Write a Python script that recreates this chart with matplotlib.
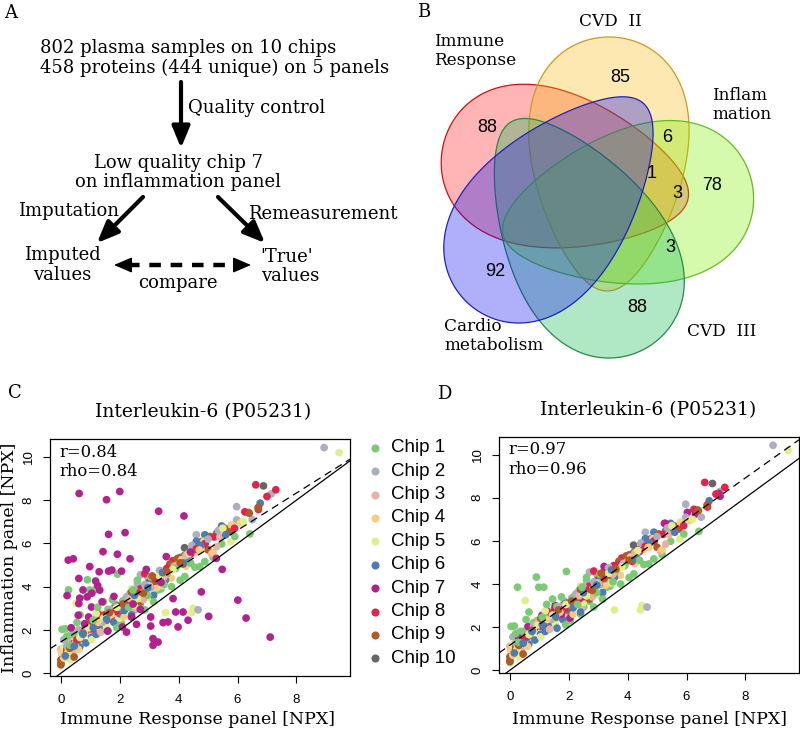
import numpy as np
import matplotlib
matplotlib.use('Agg')
import matplotlib.pyplot as plt
from matplotlib.patches import Polygon

plt.rcParams['font.family'] = 'DejaVu Serif'

# ---- data -------------------------------------------------------------
chips = ['Chip %d' % i for i in range(1, 11)]
chip_colors = ['#7ACB74', '#ABAFBF', '#E3B4A0', '#FDCB80', '#E2EE8A',
               '#4A7DB4', '#B3218E', '#E3234D', '#B05A25', '#666666']

# (immune response NPX, inflammation NPX) per chip
chip1 = [(0.04, 2.03), (0.26, 3.85), (0.90, 4.32), (0.98, 3.85), (1.15, 3.85), (1.92, 4.58),
         (2.85, 2.93), (2.70, 3.20), (3.76, 4.00), (4.21, 4.47), (3.30, 3.85), (3.40, 3.90),
         (2.51, 2.93), (2.40, 2.60), (2.05, 2.31), (1.90, 2.10), (6.42, 6.44), (5.91, 6.32),
         (5.46, 5.98), (4.89, 5.16), (4.72, 4.93), (5.17, 5.36), (0.45, 1.80), (0.80, 2.20),
         (1.30, 2.55), (1.60, 2.95), (2.20, 3.45), (2.60, 4.30), (3.05, 4.45), (3.60, 4.60),
         (4.05, 4.30), (0.30, 1.30), (0.65, 2.70), (1.45, 3.30), (2.95, 3.60), (4.40, 5.10),
         (1.10, 2.45), (3.90, 4.85), (0.20, 1.70), (0.55, 2.35), (1.75, 3.40), (2.30, 3.05),
         (2.45, 3.85), (3.15, 3.30), (3.50, 4.10), (4.55, 4.90), (1.25, 3.05), (0.15, 2.05)]
chip2 = [(8.94, 10.43), (7.14, 8.29), (5.97, 7.70), (5.97, 7.09), (4.66, 2.93), (0.10, 1.55),
         (0.35, 1.80), (0.60, 2.00), (0.95, 2.30), (1.25, 2.55), (1.50, 2.70), (1.85, 3.20),
         (2.10, 3.35), (2.35, 3.70), (2.60, 4.15), (2.70, 4.55), (2.95, 4.45), (3.20, 4.30),
         (3.45, 4.60), (3.70, 4.80), (4.00, 5.30), (4.30, 5.40), (4.60, 6.40), (5.00, 6.20),
         (5.35, 6.60), (6.50, 7.10), (1.70, 2.95), (3.05, 3.95), (0.20, 1.25), (0.80, 2.05),
         (1.10, 2.45), (1.40, 2.35), (2.25, 3.55), (2.50, 3.85), (3.35, 4.75), (3.85, 4.95),
         (4.45, 5.90), (2.85, 4.10)]
chip3 = [(0.00, 1.11), (0.05, 0.85), (0.15, 1.20), (0.30, 1.45), (0.55, 1.60), (0.75, 1.95),
         (1.00, 2.05), (1.20, 2.50), (1.45, 2.40), (1.70, 2.85), (1.95, 2.70), (2.20, 3.20),
         (2.45, 2.95), (2.65, 3.55), (2.90, 3.90), (3.10, 4.35), (3.35, 4.20), (3.60, 4.65),
         (3.85, 4.85), (4.10, 5.25), (4.40, 5.10), (4.70, 5.95), (5.12, 5.52), (5.29, 5.85),
         (5.40, 6.30), (1.35, 1.90), (2.80, 3.40), (0.40, 0.95), (0.25, 0.95), (0.65, 1.70),
         (0.90, 2.15), (1.60, 2.60), (2.10, 3.00), (2.35, 3.45), (3.00, 4.05), (3.50, 4.45),
         (3.95, 5.00), (4.25, 5.45)]
chip4 = [(0.00, 0.34), (0.02, 0.95), (0.20, 1.30), (0.45, 1.70), (0.70, 1.55), (0.90, 2.30),
         (1.10, 2.00), (1.35, 2.75), (1.60, 2.45), (1.85, 3.05), (2.05, 2.85), (2.30, 3.45),
         (2.55, 3.30), (2.75, 3.85), (3.00, 4.10), (3.25, 3.95), (3.50, 4.50), (3.75, 4.40),
         (4.00, 5.10), (4.25, 4.95), (4.55, 5.60), (4.85, 6.10), (5.17, 5.58), (5.80, 6.86),
         (6.10, 6.95), (2.15, 2.60), (3.40, 4.75), (0.60, 1.10), (0.10, 0.70), (0.35, 1.20),
         (0.80, 1.85), (1.25, 2.35), (1.70, 2.70), (2.45, 3.55), (2.90, 3.95), (3.60, 4.70),
         (4.10, 5.25), (4.70, 5.70)]
chip5 = [(9.45, 10.20), (5.77, 6.09), (4.49, 3.00), (4.44, 2.80), (3.55, 2.80), (0.52, 3.23),
         (0.32, 0.62), (0.10, 1.20), (0.50, 1.40), (0.80, 1.85), (1.05, 1.55), (1.30, 2.30),
         (1.55, 2.15), (1.80, 2.80), (2.00, 2.55), (2.25, 3.35), (2.50, 3.15), (2.75, 3.70),
         (3.00, 3.50), (3.20, 4.30), (3.45, 4.05), (3.70, 4.70), (3.95, 4.95), (4.20, 5.35),
         (4.75, 5.75), (5.50, 6.70), (6.20, 7.00), (1.20, 2.75), (2.40, 3.90), (0.25, 1.00),
         (0.65, 1.65), (0.95, 2.10), (1.45, 2.55), (1.90, 3.05), (2.60, 3.45), (2.90, 4.05),
         (3.35, 4.50), (3.80, 4.80), (4.35, 5.55)]
chip6 = [(6.77, 7.86), (6.37, 7.43), (5.46, 6.81), (4.89, 6.40), (5.29, 6.47), (0.64, 1.21),
         (1.04, 1.67), (0.30, 1.05), (0.55, 1.50), (0.85, 1.40), (1.20, 1.80), (1.40, 2.20),
         (1.60, 1.95), (1.80, 2.35), (2.00, 2.75), (2.25, 3.05), (2.40, 2.70), (2.60, 3.40),
         (2.85, 3.75), (3.05, 4.15), (3.30, 4.40), (3.55, 4.30), (3.80, 4.90), (4.05, 5.35),
         (4.30, 5.20), (4.60, 6.10), (4.75, 5.90), (5.60, 6.40), (1.90, 3.10), (3.15, 3.60),
         (0.15, 0.80), (0.45, 1.25), (0.75, 1.80), (1.10, 2.10), (1.55, 2.50), (2.15, 2.90),
         (2.50, 3.60), (2.95, 3.95), (3.45, 4.65), (4.15, 5.10)]
# chip 7 on the original (low quality) inflammation run
chip7_c = [(0.62, 8.31), (1.55, 8.02), (2.00, 8.40), (3.32, 7.49), (4.18, 7.27), (1.62, 6.42),
           (2.18, 6.50), (1.43, 5.62), (1.92, 5.50), (0.25, 5.23), (0.42, 5.29), (0.98, 4.93),
           (1.30, 4.69), (1.62, 4.72), (1.73, 4.77), (2.06, 4.72), (2.35, 5.29), (0.61, 4.38),
           (1.18, 4.26), (0.21, 3.59), (0.64, 3.47), (0.89, 3.53), (0.61, 3.22), (1.04, 3.06),
           (1.21, 2.57), (0.94, 2.60), (1.58, 1.95), (2.09, 2.14), (2.23, 1.90), (2.57, 2.26),
           (3.05, 2.60), (3.05, 2.18), (3.13, 1.60), (3.13, 1.29), (3.30, 1.44), (3.81, 3.45),
           (3.47, 2.34), (3.64, 2.37), (3.90, 2.83), (4.15, 2.83), (3.98, 2.14), (4.32, 2.45),
           (4.77, 3.76), (5.02, 2.63), (5.48, 4.80), (5.28, 5.31), (6.01, 3.38), (6.29, 2.55),
           (7.11, 1.67), (3.58, 5.39), (1.32, 3.84), (0.59, 2.68), (0.81, 2.29), (1.40, 3.30),
           (1.05, 3.70), (2.70, 2.95), (2.45, 3.20), (1.80, 3.55), (1.25, 4.05), (0.75, 3.85),
           (0.35, 2.10), (2.40, 2.60), (3.40, 4.20), (2.90, 4.80), (4.40, 5.60)]
# chip 7 after remeasurement
chip7_d = [(7.14, 8.07), (7.10, 8.20), (6.03, 7.32), (6.30, 7.24), (5.25, 6.81), (5.56, 6.50),
           (5.28, 6.81), (0.81, 2.08), (1.09, 2.54), (1.20, 2.00), (1.54, 3.00), (1.98, 2.77),
           (2.26, 3.31), (2.85, 3.85), (3.19, 4.55), (3.53, 4.85), (3.98, 5.08), (0.64, 1.70),
           (3.20, 4.81), (3.35, 4.47), (1.53, 2.88), (2.04, 2.42), (0.62, 2.03), (1.23, 2.57),
           (4.40, 5.60), (2.60, 3.70), (0.30, 1.50), (1.75, 2.60), (2.45, 3.40), (3.75, 4.90)]
chip8 = [(6.62, 8.71), (7.30, 8.48), (7.00, 8.17), (6.71, 7.57), (6.25, 7.46), (0.40, 1.35),
         (0.70, 1.75), (0.95, 2.15), (1.10, 2.40), (1.30, 2.20), (1.50, 2.70), (1.70, 2.55),
         (1.95, 3.10), (2.20, 3.05), (2.45, 3.60), (2.70, 3.90), (3.00, 4.20), (3.40, 4.60),
         (3.80, 5.20), (4.15, 5.05), (4.40, 5.50), (4.90, 6.00), (5.20, 6.30), (5.90, 6.70),
         (0.85, 1.95), (1.25, 2.75), (2.85, 4.60), (0.20, 1.15), (0.55, 1.55), (1.05, 2.05),
         (1.40, 2.45), (1.85, 2.85), (2.35, 3.30), (2.60, 3.70), (3.20, 4.40), (3.60, 4.85),
         (4.60, 5.75)]
chip9 = [(6.71, 7.67), (5.57, 6.70), (5.74, 6.55), (5.06, 6.32), (4.89, 5.85), (5.00, 5.70),
         (0.00, 0.62), (0.00, 0.45), (0.20, 1.00), (0.45, 1.25), (0.65, 1.60), (0.90, 2.05),
         (1.15, 2.20), (1.35, 2.65), (1.55, 2.45), (1.80, 3.00), (2.00, 2.90), (2.25, 3.40),
         (2.50, 3.55), (2.70, 3.30), (2.95, 4.00), (3.20, 4.25), (3.45, 4.40), (3.70, 5.05),
         (3.95, 5.30), (4.20, 5.45), (4.50, 5.70), (6.40, 7.40), (6.70, 7.65), (0.45, 0.75),
         (0.30, 1.15), (0.75, 1.85), (1.05, 2.40), (1.65, 2.80), (2.10, 3.20), (2.40, 3.75),
         (2.80, 3.70), (3.10, 4.50), (3.60, 4.70), (4.05, 5.10)]
chip10 = [(6.88, 8.66), (4.78, 6.09), (0.00, 0.40), (0.90, 2.10), (1.60, 2.60), (2.30, 3.40),
          (3.00, 4.30), (3.60, 4.70), (2.75, 3.95), (4.20, 5.80)]

fit_c = (1.45, 0.86)    # dashed regression line (intercept, slope)
fit_d = (1.16, 0.97)
stats_c = ('0.84', '0.84')
stats_d = ('0.97', '0.96')

venn_names = ['Immune\nResponse', 'CVD  II', 'Inflam\nmation', 'CVD  III', 'Cardio\nmetabolism']
venn_counts = [88, 85, 78, 88, 92, 6, 1, 3, 3]

# ---- figure -----------------------------------------------------------
fig = plt.figure(figsize=(8, 7.31), dpi=100)


def interleave(groups):
    xs, ys, cs = [], [], []
    n = max(len(g) for g, _ in groups)
    for i in range(n):
        for g, c in groups:
            if i < len(g):
                xs.append(g[i][0])
                ys.append(g[i][1])
                cs.append(c)
    return xs, ys, cs


def scatter_panel(rect, chip7, fit, stats):
    ax = fig.add_axes(rect)
    data = [chip1, chip2, chip3, chip4, chip5, chip6, chip7, chip8, chip9, chip10]
    xs, ys, cs = interleave(list(zip(data, chip_colors)))
    ax.scatter(xs, ys, c=cs, s=31, linewidths=0, zorder=2)
    ax.axline((0, fit[0]), slope=fit[1], color='k', lw=0.9, dashes=(6, 4), zorder=3)
    ax.axline((0, 0), slope=1, color='k', lw=0.9, zorder=3)
    ax.set_xlim(-0.37, 9.82)
    ax.set_ylim(-0.13, 10.83)
    ax.set_xticks([0, 2, 4, 6, 8])
    ax.set_yticks([0, 2, 4, 6, 8, 10])
    ax.tick_params(length=5, width=0.8, labelsize=9.5, labelfontfamily='Liberation Sans')
    ax.tick_params(axis='x', pad=8)
    ax.tick_params(axis='y', pad=6, labelrotation=90)
    for lab in ax.get_yticklabels():
        lab.set_va('center')
    for sp in ax.spines.values():
        sp.set_linewidth(0.9)
    ax.text(0.03, 0.945, 'r=' + stats[0], transform=ax.transAxes, fontsize=11.8, va='center')
    ax.text(0.03, 0.862, 'rho=' + stats[1], transform=ax.transAxes, fontsize=11.8, va='center')
    return ax


axc = scatter_panel([0.0625, 0.0752, 0.375, 0.3243], chip7_c, fit_c, stats_c)
axd = scatter_panel([0.62375, 0.0793, 0.375, 0.3233], chip7_d, fit_d, stats_d)

# overlay in pixel coordinates for the diagram parts
ov = fig.add_axes([0, 0, 1, 1], zorder=5)
ov.set_xlim(0, 800)
ov.set_ylim(731, 0)
ov.axis('off')

# ---- panel A ----------------------------------------------------------
fs = 13
ov.text(4, 13, 'A', fontsize=13, va='center')
ov.text(40, 48, '802 plasma samples on 10 chips', fontsize=fs, va='center')
ov.text(40, 68, '458 proteins (444 unique) on 5 panels', fontsize=fs, va='center')
ov.text(188, 108, 'Quality control', fontsize=fs, va='center')
ov.text(178, 163, 'Low quality chip 7', fontsize=fs, va='center', ha='center')
ov.text(178, 182, 'on inflammation panel', fontsize=fs, va='center', ha='center')
ov.text(18, 211, 'Imputation', fontsize=fs, va='center')
ov.text(248, 214, 'Remeasurement', fontsize=fs, va='center')
ov.text(62, 255, 'Imputed', fontsize=fs, va='center', ha='center')
ov.text(62, 275, 'values', fontsize=fs, va='center', ha='center')
ov.text(260, 257, "'True'", fontsize=fs, va='center')
ov.text(261, 276, 'values', fontsize=fs, va='center')
ov.text(178, 283, 'compare', fontsize=fs, va='center', ha='center')

arrow = dict(arrowstyle='-|>,head_length=0.65,head_width=0.27', lw=3, color='k',
             mutation_scale=20, shrinkA=0, shrinkB=0)
for (x0, y0), (x1, y1) in [((181, 82), (181, 148)), ((143, 197), (97, 243)),
                           ((218, 197), (265, 243))]:
    ov.annotate('', xy=(x1, y1), xytext=(x0, y0), arrowprops=arrow)
ov.plot([128, 237], [265, 265], color='k', lw=3.2, dashes=(2.6, 2.2))
small = dict(arrowstyle='-|>,head_length=0.7,head_width=0.3', lw=1, color='k',
             mutation_scale=16, shrinkA=0, shrinkB=0)
ov.annotate('', xy=(114, 265), xytext=(128, 265), arrowprops=small)
ov.annotate('', xy=(251, 265), xytext=(237, 265), arrowprops=small)

# ---- panel B: five-set Venn ------------------------------------------
ov.text(417, 12, 'B', fontsize=13, va='center')


def egg(tail, head, half_w, k=0.3, n=240):
    tail = np.asarray(tail, float)
    head = np.asarray(head, float)
    d = head - tail
    L = np.hypot(*d)
    d = d / L
    nrm = np.array([-d[1], d[0]])
    t = np.linspace(0, 2 * np.pi, n)
    u = L / 2 * np.cos(t)
    v = half_w * np.sin(t) * (1 + k * np.cos(t))
    return (tail + head) / 2 + np.outer(u, d) + np.outer(v, nrm)


shapes = [  # tail, head, fill, edge
    ((688, 199), (443, 146), '#FF2020', '#D01010'),
    ((607, 291), (610, 37), '#F8BC10', '#CC9A20'),
    ((503, 234), (752, 183), '#80F000', '#66BB22'),
    ((511, 122), (648, 347), '#10B850', '#2A8A45'),
    ((643, 103), (470, 305), '#1010F0', '#2020C0'),
]
for tail, head, fc, ec in shapes:
    pts = egg(tail, head, 77)
    ov.add_patch(Polygon(pts, closed=True, facecolor=fc, alpha=0.33, edgecolor='none'))
    ov.add_patch(Polygon(pts, closed=True, facecolor='none', edgecolor=ec, lw=0.9))

count_pos = [(487, 128), (620, 77), (712, 186), (637, 307), (495, 272),
             (667, 137), (652, 173), (677, 193), (670, 248)]
for (x, y), n in zip(count_pos, venn_counts):
    ov.text(x, y, str(n), fontsize=13, ha='center', va='center', family='Liberation Sans')

name_pos = [(434, 51, 'left'), (610, 21, 'center'), (712, 105, 'left'),
            (687, 332, 'left'), (444, 336, 'left')]
for (x, y, ha), name in zip(name_pos, venn_names):
    ov.text(x, y, name, fontsize=12.2, ha=ha, va='center', linespacing=1.15)

# ---- panels C and D labels --------------------------------------------
ov.text(8, 393, 'C', fontsize=13, va='center')
ov.text(437, 394, 'D', fontsize=13, va='center')
for xc, yc in [(203, 412), (648, 410)]:
    ov.text(xc, yc, 'Interleukin-6 (P05231)', fontsize=13.5, ha='center', va='center')
for xc, yc in [(198, 720), (650, 719)]:
    ov.text(xc, yc, 'Immune Response panel [NPX]', fontsize=12.5, ha='center', va='center')
ov.text(10, 558, 'Inflammation panel [NPX]', fontsize=12.5, ha='center', va='center',
        rotation=90)

# legend between the two scatter panels
for i, (name, col) in enumerate(zip(chips, chip_colors)):
    y = 447.7 + 23.4 * i
    ov.scatter([375], [y], s=34, color=col, linewidths=0)
    ov.text(391, y, name, fontsize=13.5, va='center', family='Liberation Sans')

fig.savefig('out.png', dpi=100)
